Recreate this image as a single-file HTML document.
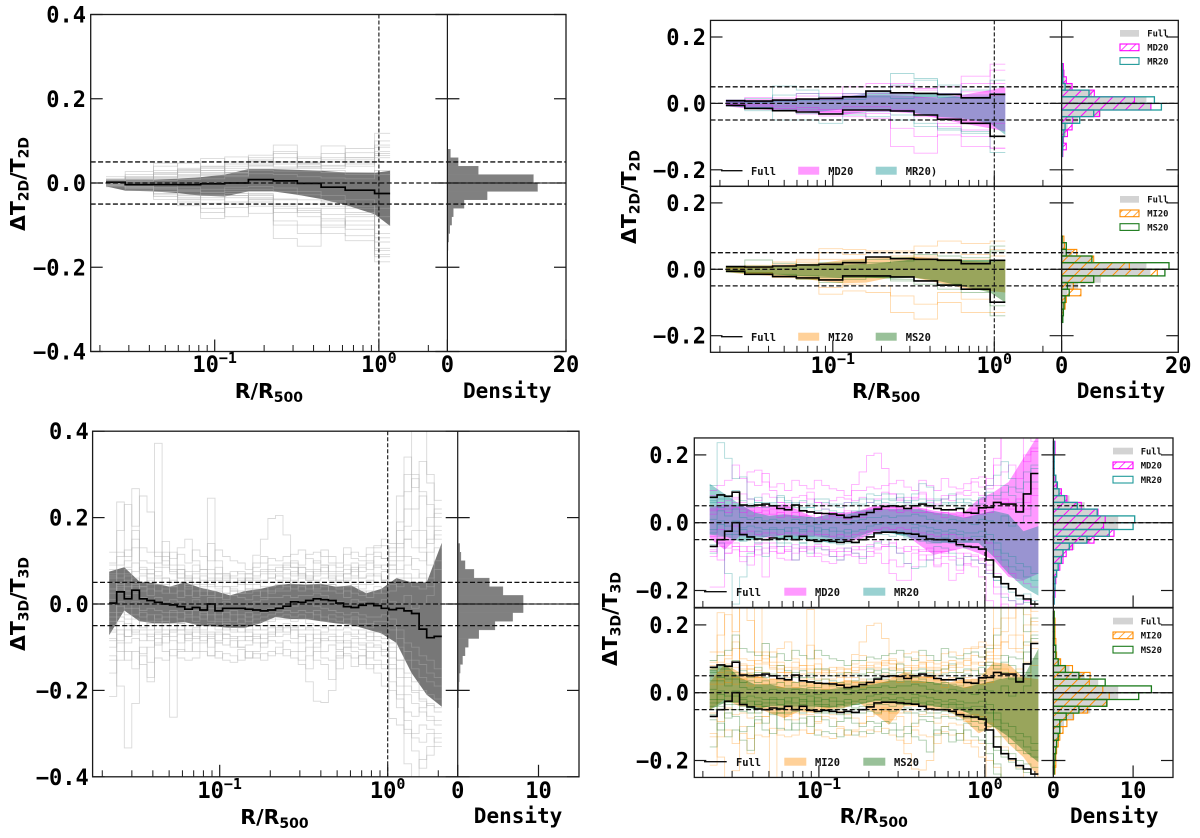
<!DOCTYPE html>
<html lang="en">
<head>
<meta charset="utf-8">
<title>Temperature deviation profiles</title>
<style>
html,body{margin:0;padding:0;background:#fff;width:1200px;height:838px;overflow:hidden}
svg{display:block;filter:blur(0.3px)}
.tick{font:bold 22px "DejaVu Sans Mono","Liberation Mono",monospace;fill:#000}
.dens{font:bold 21px "DejaVu Sans Mono","Liberation Mono",monospace;fill:#000}
.math{font:bold 20.5px "DejaVu Sans","Liberation Sans",sans-serif;fill:#000}
.legL{font:bold 10.4px "DejaVu Sans Mono","Liberation Mono",monospace;fill:#111}
.legR{font:bold 8.8px "DejaVu Sans Mono","Liberation Mono",monospace;fill:#111}
</style>
</head>
<body>
<svg id="chart" xmlns="http://www.w3.org/2000/svg" width="1200" height="838" viewBox="0 0 1200 838">
<defs>
<pattern id="hatch-md" patternUnits="userSpaceOnUse" width="9" height="9" patternTransform="rotate(45)"><line x1="0" y1="0" x2="0" y2="9" stroke="#ff00ff" stroke-width="2"/></pattern>
<pattern id="hatch-mi" patternUnits="userSpaceOnUse" width="9" height="9" patternTransform="rotate(45)"><line x1="0" y1="0" x2="0" y2="9" stroke="#ff8c00" stroke-width="2"/></pattern>
<pattern id="hatch-leg-md" patternUnits="userSpaceOnUse" width="6" height="6" patternTransform="rotate(45)"><line x1="0" y1="0" x2="0" y2="6" stroke="#ff00ff" stroke-width="1.5"/></pattern>
<pattern id="hatch-leg-mi" patternUnits="userSpaceOnUse" width="6" height="6" patternTransform="rotate(45)"><line x1="0" y1="0" x2="0" y2="6" stroke="#ff8c00" stroke-width="1.5"/></pattern>
</defs>
</svg>
<script>
/* ---------- shared axis data ---------- */
const yTicksWide = [0.4, 0.2, 0.0, -0.2, -0.4];
const yTicksNarrow = [0.2, 0.0, -0.2];
const refLines = [0.05, 0, -0.05];
const xMajorExp = [-1, 0];
const xMinorR = [0.02,0.03,0.04,0.05,0.06,0.07,0.08,0.09,0.2,0.3,0.4,0.5,0.6,0.7,0.8,0.9,2];

/* ---------- 2D profiles (log10 R bin edges; values in units of 0.001) ---------- */
const rEdges2D = [-1.662,-1.545,-1.373,-1.226,-1.086,-0.939,-0.795,-0.643,-0.497,-0.352,-0.205,-0.026,0.068];
const median2D = [2,-4,-4,-4,-2,0,8,5,-1,-10,-17,-25];
const upper2D = [8,7,10,13,15,20,37,32,30,27,17,27];
const lower2D = [-6,-15,-22,-26,-32,-20,-20,-23,-35,-48,-60,-99];
const bandUp2D = [8,8,8,10,14,20,33,33,31,29,25,24,29];
const bandLo2D = [-8,-18,-20,-24,-30,-32,-20,-20,-28,-38,-52,-74,-102];
const thin2D = [
 [10,20,40,47,30,40,66,90,40,30,25,118],
 [5,27,47,30,58,30,50,60,58,88,40,100],
 [15,10,20,35,40,62,40,50,45,60,82,90],
 [7,15,30,25,25,45,55,70,50,70,60,75],
 [3,12,15,18,30,25,45,45,38,50,50,60],
 [4,8,12,20,20,22,35,35,45,40,45,50],
 [-5,-10,-20,-40,-84,-50,-30,-132,-150,-60,-70,-187],
 [-9,-18,-39,-54,-60,-80,-40,-90,-100,-120,-137,-170],
 [-6,-12,-25,-30,-40,-35,-72,-60,-80,-100,-90,-160],
 [-4,-10,-20,-28,-35,-30,-45,-70,-60,-75,-110,-140],
 [-3,-8,-15,-20,-30,-25,-35,-50,-50,-55,-75,-120],
 [-2,-6,-12,-15,-22,-20,-28,-40,-40,-45,-60,-100],
 [2,4,6,8,10,15,22,20,15,12,10,20],
 [0,-3,-6,-10,-15,-10,-8,-12,-20,-30,-40,-60],
 [4,6,10,15,18,25,30,28,28,25,20,30],
 [-1,-8,-12,-18,-22,-15,-15,-20,-28,-42,-55,-80],
 [6,14,22,28,35,35,52,50,48,55,60,70],
 [-5,-14,-28,-34,-48,-45,-38,-55,-65,-85,-100,-130],
 [9,4,14,32,22,50,42,75,35,42,55,85],
 [-7,-4,-32,-45,-70,-30,-55,-100,-120,-90,-125,-175],
 [3,9,25,12,38,18,60,38,62,35,72,65],
 [1,-12,-10,-38,-28,-58,-25,-38,-70,-105,-80,-155]
];
const bandUpMD2D = [8,10,10,12,15,20,25,25,22,15,25,40,50];
const bandLoMD2D = [-8,-15,-20,-25,-30,-35,-25,-25,-30,-45,-60,-75,-85];
const bandUpMR2D = [8,6,8,10,15,18,30,32,30,28,20,22,25];
const bandLoMR2D = [-8,-12,-18,-22,-25,-18,-18,-22,-28,-40,-45,-60,-95];
const bandUpMI2D = [8,8,10,15,18,28,32,35,38,32,25,22,28];
const bandLoMI2D = [-8,-15,-20,-25,-35,-42,-40,-25,-25,-40,-55,-65,-70];
const bandUpMS2D = [8,6,8,8,10,12,15,22,30,30,28,28,28];
const bandLoMS2D = [-8,-12,-15,-20,-22,-25,-25,-28,-25,-35,-50,-70,-100];
const thinMD2D = [
 [10,18,16,30,30,50,60,52,40,30,82,118],
 [5,12,10,22,20,30,35,60,45,50,60,100],
 [-3,-8,-15,-20,-25,-30,-45,-130,-150,-60,-130,-135],
 [-6,-15,-22,-32,-38,-40,-30,-75,-100,-95,-100,-135],
 [-2,-4,-8,-12,-18,-10,-10,-20,-40,-70,-80,-60],
 [3,5,8,14,12,25,30,28,18,25,35,60]
];
const thinMR2D = [
 [10,15,52,40,20,30,35,90,75,55,25,50],
 [5,8,25,30,15,22,32,55,70,30,40,70],
 [-8,-22,-50,-50,-60,-35,-40,-50,-60,-80,-90,-148],
 [-5,-12,-22,-30,-30,-28,-25,-35,-70,-75,-85,-100],
 [2,2,6,8,10,12,20,15,22,18,15,30]
];
const thinMI2D = [
 [8,12,22,30,62,60,55,55,70,85,78,85],
 [5,6,15,25,50,45,50,50,40,50,45,60],
 [-6,-12,-25,-30,-75,-65,-70,-130,-150,-100,-130,-130],
 [-4,-10,-20,-28,-55,-45,-50,-80,-105,-70,-90,-100],
 [2,5,10,20,30,30,35,40,35,30,30,40]
];
const thinMS2D = [
 [8,28,18,15,20,25,30,35,45,40,35,70],
 [5,10,10,10,12,15,20,25,30,30,25,55],
 [-8,-15,-20,-30,-40,-30,-25,-35,-45,-60,-70,-140],
 [-4,-10,-15,-20,-25,-25,-22,-30,-35,-45,-60,-110]
];

/* ---------- 2D histograms: density per 0.02 bin, first bin upper edge given ---------- */
const histTopFull2D = 0.08;
const histFull2D = [0.5,1.8,5.2,14.5,15.2,6.7,2.8,1,0.7,0.4,0.2,0.1];
const histTopSub2D = 0.12;
const histFullSub2D = [0.05,0.1,0.5,1.8,5.2,14.5,15.2,6.7,2.8,1,0.7,0.4,0.2,0.1];
const histMD2D = [0.3,0.4,0.8,1.8,5.6,12.5,15.3,6.5,1.9,1.8,1,0.3,0.8,0.2];
const histMR2D = [0.1,0.2,0.2,0.6,4.7,15.9,17.1,5.5,3.1,0.6,0.4,0.2,0.2,0.1];
const histMI2D = [0,0.4,0.5,2.6,5.5,11.6,16.4,5.5,2,3.3,0.8,0.6,0.3,0.1];
const histMS2D = [0,0.1,0.8,0.8,5.2,18.4,17.7,5.5,1,1.3,0.6,0.4,0.3,0.2];

/* ---------- 3D profiles ---------- */
const rStart3D = -1.658;
const rStep3D = 0.045;
const median3D = [2,28,12,32,12,8,4,0,-2,-6,-12,-8,-14,0,-16,-10,-10,-10,-12,-14,-16,-14,-10,-5,5,4,8,12,10,8,2,-6,-8,-3,1,-4,-10,-13,-10,-16,-22,-58,-78,-80];
const median3DEnd = [-78,-75];
const upper3D = [75,82,78,90,52,50,52,55,50,42,38,52,35,32,28,27,26,22,15,18,24,30,40,48,50,48,42,50,55,50,42,38,38,42,30,28,44,45,60,55,55,32,85,145];
const lower3D = [-70,-50,-25,0,-35,-42,-48,-50,-45,-48,-40,-50,-40,-52,-55,-52,-55,-58,-55,-58,-50,-42,-30,-28,-28,-30,-32,-34,-40,-48,-50,-50,-55,-65,-70,-72,-78,-110,-160,-180,-195,-215,-225,-240];
const bandUp3D = [75,85,52,48,40,50,38,30,20,30,35,43,47,45,47,40,43,25,35,60,50,50,142];
const bandLo3D = [-72,-15,-40,-45,-45,-42,-50,-52,-55,-55,-45,-30,-35,-35,-40,-45,-48,-58,-68,-90,-160,-210,-238];
const bandUpMD3D = [45,55,50,45,50,55,35,15,25,30,35,50,50,45,45,35,30,30,70,90,120,190,260];
const bandLoMD3D = [-45,-80,-40,-40,-45,-35,-40,-40,-45,-55,-50,-30,-28,-30,-65,-95,-85,-75,-90,-110,-160,-170,-150];
const bandUpMR3D = [115,85,55,30,20,25,20,15,25,20,35,40,40,40,40,30,25,15,25,35,25,-25,-10];
const bandLoMR3D = [-35,-40,-55,-50,-40,-50,-50,-50,-60,-55,-40,-25,-30,-40,-50,-60,-60,-60,-60,-100,-150,-190,-215];
const bandUpMI3D = [30,85,60,55,40,40,30,30,25,35,35,35,40,60,50,50,30,40,40,90,85,45,40];
const bandLoMI3D = [-50,-20,-40,-40,-60,-75,-55,-60,-50,-45,-30,-60,-95,-40,-40,-50,-55,-80,-120,-100,-150,-190,-250];
const bandUpMS3D = [70,85,45,25,25,15,15,10,10,15,20,25,35,35,35,30,25,15,25,35,45,45,130];
const bandLoMS3D = [-50,-30,-30,-50,-40,-40,-40,-40,-45,-40,-35,-25,-25,-35,-35,-40,-45,-55,-75,-100,-130,-170,-205];
const thin3D = [
 [-214,236,110,267,70,60,372,90,120,80,60,50,40,245,70,40,30,25,60,113,150,198,205,160,85,70,60,75,90,60,50,70,80,90,95,130,135,110,190,300,420,420,300,240],
 [-120,-190,-333,-230,-100,-180,-90,-70,-262,-110,-70,-60,-65,-120,-90,-70,-75,-100,-125,-110,-90,-70,-50,-55,-80,-70,-180,-225,-228,-200,-120,-100,-90,-95,-140,-160,-190,-265,-280,-370,-420,-360,-330,-330],
 [120,170,230,180,250,213,120,100,90,130,150,100,80,140,100,70,60,50,70,85,110,75,85,95,100,90,115,120,110,95,85,115,120,110,130,135,150,140,250,340,270,330,280,200],
 [-160,-90,-130,-110,-140,-170,-70,-110,-120,-60,-80,-110,-90,-70,-125,-115,-120,-130,-110,-125,-115,-120,-100,-85,-90,-110,-100,-130,-140,-175,-110,-120,-145,-120,-110,-130,-140,-180,-240,-300,-300,-280,-290,-300],
 [90,120,85,150,100,95,85,120,80,60,75,90,70,60,55,65,50,45,55,75,80,90,90,80,70,85,80,100,90,75,70,60,95,75,100,85,90,120,140,180,220,250,230,150],
 [-100,-70,-90,-80,-85,-70,-95,-75,-85,-90,-70,-75,-85,-80,-90,-95,-85,-100,-95,-80,-70,-65,-75,-70,-60,-90,-70,-80,-110,-95,-105,-85,-100,-105,-125,-110,-120,-140,-190,-250,-260,-240,-230,-250],
 [60,70,70,95,50,55,60,45,55,50,40,60,45,55,35,40,35,30,25,35,55,60,65,60,55,60,65,55,60,65,50,55,60,45,55,50,75,90,80,110,80,60,120,160],
 [-65,-40,-50,-35,-55,-45,-60,-50,-45,-60,-50,-45,-60,-50,-60,-55,-60,-65,-60,-60,-50,-40,-35,-35,-40,-35,-45,-50,-55,-60,-60,-55,-60,-70,-75,-75,-80,-110,-170,-190,-205,-225,-235,-240],
 [35,50,40,60,30,35,30,35,25,30,20,30,20,30,15,25,20,15,10,20,30,40,45,40,35,40,35,45,40,30,25,30,25,20,30,25,35,45,40,60,40,35,60,100],
 [-40,-20,-25,-10,-30,-25,-35,-30,-30,-35,-30,-30,-35,-25,-35,-35,-40,-35,-40,-35,-30,-25,-20,-15,-20,-15,-20,-25,-30,-35,-40,-35,-35,-45,-45,-50,-50,-60,-100,-130,-150,-170,-180,-190],
 [10,35,20,40,15,10,15,5,10,5,0,10,-5,15,-5,5,0,0,-5,5,10,15,15,20,15,20,20,25,20,10,5,0,10,5,0,-5,10,5,0,20,-10,0,20,50],
 [-20,5,-10,5,-15,-10,-15,-20,-15,-20,-25,-15,-25,-10,-25,-20,-25,-25,-30,-25,-20,-10,-5,0,-5,0,0,-5,-10,-15,-20,-25,-20,-25,-30,-30,-25,-35,-60,-90,-100,-120,-130,-150],
 [70,90,100,130,80,70,95,110,70,90,60,70,55,40,85,60,75,70,45,60,70,80,75,85,95,70,55,80,75,90,75,90,75,60,65,110,105,90,130,220,290,170,140,180],
 [-80,-110,-60,-70,-115,-100,-80,-90,-60,-105,-110,-90,-75,-100,-70,-80,-100,-85,-75,-90,-100,-85,-90,-120,-110,-130,-120,-90,-80,-85,-125,-100,-110,-140,-90,-100,-110,-150,-210,-270,-340,-380,-350,-310],
 [50,25,55,25,40,80,45,60,40,70,35,50,30,80,40,25,40,60,35,45,40,25,30,30,75,50,45,35,45,45,35,40,45,35,45,70,55,70,100,150,130,120,90,130],
 [-50,-30,-75,-50,-40,-60,-50,-40,-65,-45,-60,-55,-50,-45,-40,-60,-50,-50,-75,-50,-60,-55,-60,-50,-55,-50,-60,-60,-70,-70,-75,-70,-75,-80,-65,-85,-90,-100,-130,-170,-180,-200,-210,-220],
 [40,60,50,70,60,150,155,120,95,60,50,40,60,90,60,40,30,25,60,113,150,198,205,160,85,70,60,75,90,60,50,70,80,90,95,130,135,110,190,300,420,420,300,240],
 [110,236,190,130,135,70,60,55,60,75,60,55,40,45,50,60,55,45,50,60,70,85,80,85,70,75,60,85,115,105,70,60,55,70,60,55,70,110,140,180,130,90,85,120],
 [-190,-190,-90,-70,-100,-125,-60,-160,-70,-90,-80,-110,-75,-70,-100,-115,-120,-110,-95,-100,-120,-100,-80,-70,-150,-170,-170,-130,-95,-110,-130,-120,-170,-150,-120,-130,-160,-230,-250,-240,-260,-240,-230,-260],
 [-90,-60,-150,-240,-160,-90,-70,-100,-50,-70,-60,-110,-60,-90,-75,-80,-100,-110,-75,-90,-105,-70,-60,-50,-70,-90,-120,-135,-130,-110,-70,-75,-90,-125,-100,-110,-120,-150,-170,-220,-230,-240,-210,-230],
 [80,60,65,75,85,70,65,85,75,60,55,75,80,70,60,55,65,75,70,65,75,60,70,90,85,65,75,70,85,70,55,80,65,85,80,90,80,100,110,150,170,130,200,210],
 [-85,-60,-75,-60,-70,-85,-65,-60,-75,-70,-85,-65,-70,-75,-65,-70,-80,-75,-85,-70,-80,-75,-55,-65,-50,-75,-85,-70,-85,-75,-85,-90,-80,-90,-100,-95,-105,-125,-150,-210,-230,-250,-270,-280],
 [65,45,80,50,65,45,75,60,50,80,65,45,65,45,70,70,50,55,60,55,50,70,55,70,65,85,55,65,70,55,65,70,85,60,70,65,55,80,70,90,105,100,150,170],
 [-60,-85,-45,-65,-60,-75,-40,-70,-60,-50,-65,-80,-50,-65,-85,-45,-65,-55,-65,-75,-90,-50,-65,-45,-60,-60,-55,-100,-65,-50,-90,-65,-70,-60,-85,-65,-70,-90,-130,-160,-200,-220,-260,-270],
 [25,40,30,45,40,20,45,25,40,15,45,15,35,20,30,10,30,25,35,30,15,30,35,55,45,30,50,30,30,45,40,15,40,30,15,40,25,30,60,70,60,70,40,80],
 [-30,-5,-35,-25,-20,-40,-25,-40,-20,-45,-15,-40,-20,-40,-15,-40,-15,-45,-20,-45,-40,-35,-30,-25,-30,-25,-35,-15,-40,-25,-30,-45,-30,-35,-55,-40,-40,-50,-80,-110,-130,-140,-160,-170],
 [95,110,125,170,130,120,110,145,105,115,95,125,110,100,125,110,100,95,80,95,95,105,100,110,115,125,105,95,125,110,95,130,105,100,115,120,105,130,170,260,300,260,180,220],
 [-130,-130,-110,-150,-120,-135,-125,-130,-105,-125,-130,-125,-110,-120,-110,-130,-135,-105,-125,-115,-130,-110,-115,-105,-125,-140,-150,-110,-125,-130,-150,-115,-125,-120,-150,-140,-150,-200,-220,-290,-310,-320,-300,-320]
];
const subsetFull3D = [0,1,2,3,4,5,6,7,8,9,10,11,12,13,14,15,20,21,22,23,24,25,26,27];
const subsetMD3D = [16,18,5,8,9,13,20,21,24,26];
const subsetMR3D = [17,19,6,7,10,11,22,25];
const subsetMI3D = [0,1,2,4,12,14,20,23,24,27];
const subsetMS3D = [3,6,7,8,9,10,11,13,15,22,25,26];

/* ---------- 3D histograms ---------- */
const histTop3D = 0.24;
const histFull3D = [0.05,0.05,0.05,0.05,0.05,0.25,0.4,0.9,2,3.9,5.6,8.1,8.1,6.8,4.6,2.6,1.3,0.9,0.6,0.3,0.2,0.15,0.1,0.1];
const histMD3D = [0.2,0.2,0.1,0.1,0.1,0.2,0.4,1,1.7,3.5,5.6,6.5,6.3,7.6,5.1,2.4,1.6,1.2,0.8,0.4,0.3,0.2,0.2,0.1];
const histMR3D = [0.1,0.1,0.1,0.1,0.1,0.3,0.5,0.7,1.4,3,5.5,10.2,10,7,4.2,2,1.2,1,0.6,0.4,0.2,0.2,0.1,0.1];
const histMI3D = [0.1,0.2,0.2,0.2,0.3,0.3,0.4,0.9,2.4,4.6,4.5,6.2,7,6.7,4.3,2.5,1.7,1.2,0.8,0.6,0.4,0.3,0.3,0.2];
const histMS3D = [0.1,0.1,0.1,0.1,0.1,0.3,0.3,0.6,1.5,3.2,6.5,12.3,10.7,6.7,3.2,1.6,0.8,0.8,0.6,0.4,0.3,0.2,0.1,0.1];

/* ---------- drawing helpers ---------- */
const svg = document.getElementById('chart');
const NS = 'http://www.w3.org/2000/svg';
function add(parent, tag, attrs, name) {
  const el = document.createElementNS(NS, tag);
  for (const k in attrs) el.setAttribute(k, attrs[k]);
  
  
  parent.appendChild(el);
  return el;
}
function group(parent, name, clip) {
  const a = clip ? {'clip-path':'url(#' + clip + ')'} : {};
  return add(parent, 'g', a, name);
}
function makeAxes(c) {
  const span = c.yMax;
  return {
    xR: lr => c.xM1 + (lr + 1) * (c.x0d - c.xM1),
    y: v => c.zero - v * c.perUnit,
    yM: m => c.zero - m / 1000 * c.perUnit,
    xD: d => c.xDiv + d * c.dScale,
    top: c.zero - span * c.perUnit,
    bot: c.zero + span * c.perUnit
  };
}
function stepPath(edges, vals, ax) {
  let d = '';
  vals.forEach((v, i) => {
    const y = ax.yM(v).toFixed(1);
    d += (i ? 'L' : 'M') + ax.xR(edges[i]).toFixed(1) + ' ' + y + 'L' + ax.xR(edges[i + 1]).toFixed(1) + ' ' + y;
  });
  return d;
}
function bandPath(knots, up, lo, ax) {
  let d = '';
  up.forEach((v, i) => { d += (i ? 'L' : 'M') + ax.xR(knots[i]).toFixed(1) + ' ' + ax.yM(v).toFixed(1); });
  for (let i = lo.length - 1; i >= 0; i--) d += 'L' + ax.xR(knots[i]).toFixed(1) + ' ' + ax.yM(lo[i]).toFixed(1);
  return d + 'Z';
}
function histBars(parent, vals, topV, binW, ax, style, name) {
  vals.forEach((d, i) => {
    if (d <= 0) return;
    const yT = ax.y(topV - i * binW), yB = ax.y(topV - (i + 1) * binW);
    const a = Object.assign({x: ax.xD(0).toFixed(1), y: yT.toFixed(1), width: (ax.xD(d) - ax.xD(0)).toFixed(1), height: (yB - yT).toFixed(1)}, style);
    add(parent, 'rect', a, name);
  });
}
let clipN = 0;
function makeClip(c, ax) {
  const id = 'clip' + (clipN++);
  const cp = add(svg.querySelector('defs'), 'clipPath', {id: id}, 'panel-clip');
  add(cp, 'rect', {x: c.x0, y: ax.top, width: c.x1 - c.x0, height: ax.bot - ax.top}, 'panel-clip-rect');
  return id;
}
function drawAxes(root, c, ax, yTicks, xLabels) {
  const g = group(root, 'axes');
  const ink = '#1a1a1a';
  refLines.forEach(v => {
    add(g, 'line', {x1: c.x0, x2: c.x1, y1: ax.y(v), y2: ax.y(v), stroke: '#111', 'stroke-width': 1.3, 'stroke-dasharray': '5 2.4'}, 'reference-line');
  });
  add(g, 'line', {x1: c.xDiv, x2: c.x1, y1: ax.y(0), y2: ax.y(0), stroke: '#111', 'stroke-width': 1}, 'density-zero-line');
  add(g, 'line', {x1: c.x0d, x2: c.x0d, y1: ax.top, y2: ax.bot, stroke: '#111', 'stroke-width': 1.1, 'stroke-dasharray': '4 2'}, 'r500-line');
  add(g, 'rect', {x: c.x0, y: ax.top, width: c.x1 - c.x0, height: ax.bot - ax.top, fill: 'none', stroke: ink, 'stroke-width': 1.3}, 'panel-frame');
  add(g, 'line', {x1: c.xDiv, x2: c.xDiv, y1: ax.top, y2: ax.bot, stroke: ink, 'stroke-width': 1.2}, 'panel-divider');
  yTicks.forEach(v => {
    const y = ax.y(v);
    add(g, 'line', {x1: c.x0, x2: c.x0 + 12, y1: y, y2: y, stroke: ink, 'stroke-width': 1.2}, 'y-tick');
    add(g, 'line', {x1: c.xDiv - 12, x2: c.xDiv + 12, y1: y, y2: y, stroke: ink, 'stroke-width': 1.2}, 'y-tick-divider');
    add(g, 'line', {x1: c.x1 - 12, x2: c.x1, y1: y, y2: y, stroke: ink, 'stroke-width': 1.2}, 'y-tick-right');
    const t = add(g, 'text', {x: c.labelRight, y: y + 8, 'text-anchor': 'end', class: 'tick'}, 'y-tick-label');
    t.textContent = (v < 0 ? '\u2212' : '') + Math.abs(v).toFixed(1);
  });
  xMinorR.forEach(r => {
    const x = ax.xR(Math.log10(r));
    add(g, 'line', {x1: x, x2: x, y1: ax.bot - 6.5, y2: ax.bot, stroke: ink, 'stroke-width': 1}, 'x-minor-tick');
  });
  xMajorExp.forEach(e => {
    const x = ax.xR(e);
    add(g, 'line', {x1: x, x2: x, y1: ax.bot - 12, y2: ax.bot, stroke: ink, 'stroke-width': 1.2}, 'x-major-tick');
    if (xLabels) {
      const t = add(g, 'text', {x: x, y: xLabels.base, 'text-anchor': 'middle', class: 'tick'}, 'x-tick-label');
      t.textContent = '10';
      const s = add(t, 'tspan', {dy: -9, 'font-size': 15}, 'x-tick-exponent');
      s.textContent = e < 0 ? '\u2212' + Math.abs(e) : String(e);
    }
  });
  c.dTicks.forEach(d => {
    const x = ax.xD(d);
    add(g, 'line', {x1: x, x2: x, y1: ax.bot - 12, y2: ax.bot, stroke: ink, 'stroke-width': 1.2}, 'density-tick');
    if (xLabels) {
      const t = add(g, 'text', {x: x, y: xLabels.base, 'text-anchor': 'middle', class: 'tick'}, 'density-tick-label');
      t.textContent = String(d);
    }
  });
}
function thinLines(parent, edges, list, colour, op, ax, name) {
  list.forEach(p => {
    add(parent, 'path', {d: stepPath(edges, p, ax), fill: 'none', stroke: colour, 'stroke-width': 0.9, 'stroke-opacity': op}, name);
  });
}
function xyLabels(root, yl, xl, dl, sub) {
  const yt = add(root, 'text', {transform: 'translate(' + yl.x + ' ' + yl.y + ') rotate(-90)', 'text-anchor': 'middle', class: 'math'}, 'y-axis-title');
  yt.appendChild(document.createTextNode('\u0394T'));
  const s1 = add(yt, 'tspan', {dy: 3.5, 'font-size': 14}, 'y-title-subscript');
  s1.textContent = sub;
  const mid = add(yt, 'tspan', {dy: -3.5}, 'y-title-slash');
  mid.textContent = '/T';
  const s2 = add(yt, 'tspan', {dy: 3.5, 'font-size': 14}, 'y-title-subscript');
  s2.textContent = sub;
  const xt = add(root, 'text', {x: xl.x, y: xl.y, class: 'math'}, 'x-axis-title');
  xt.appendChild(document.createTextNode('R/R'));
  const s3 = add(xt, 'tspan', {dy: 4, 'font-size': 14}, 'x-title-subscript');
  s3.textContent = '500';
  const dt = add(root, 'text', {x: dl.x, y: dl.y, class: 'dens'}, 'density-axis-title');
  dt.textContent = 'Density';
}
function legendLeft(root, L, names) {
  const g = group(root, 'profile-legend');
  add(g, 'line', {x1: L.lx0, x2: L.lx1, y1: L.y, y2: L.y, stroke: '#111', 'stroke-width': 1.3}, 'legend-line-full');
  const t0 = add(g, 'text', {x: L.tx0, y: L.y + 4.4, class: 'legL'}, 'legend-label-full');
  t0.textContent = 'Full';
  names.forEach((n, i) => {
    add(g, 'rect', {x: L.px[i], y: L.y - 4, width: L.pw, height: 8, fill: n.fill, 'fill-opacity': 0.4}, 'legend-swatch');
    const t = add(g, 'text', {x: L.tx[i], y: L.y + 4.4, class: 'legL'}, 'legend-label');
    t.textContent = n.label;
  });
}
function legendRight(root, L, names) {
  const g = group(root, 'histogram-legend');
  add(g, 'rect', {x: L.x, y: L.y[0], width: L.w, height: 6.7, fill: '#d3d3d3'}, 'legend-swatch-full');
  const t0 = add(g, 'text', {x: L.tx, y: L.y[0] + 6.6, class: 'legR'}, 'legend-label-full');
  t0.textContent = 'Full';
  names.forEach((n, i) => {
    add(g, 'rect', {x: L.x, y: L.y[i + 1], width: L.w, height: 6.7, fill: n.hatch || 'none', stroke: n.stroke, 'stroke-width': 1.1}, 'legend-swatch');
    const t = add(g, 'text', {x: L.tx, y: L.y[i + 1] + 6.6, class: 'legR'}, 'legend-label');
    t.textContent = n.label;
  });
}
function singlePanel(c, edges, knots, upBand, loBand, med, thin, hist, histTop, name) {
  const root = group(svg, name);
  const ax = makeAxes(c);
  const clip = makeClip(c, ax);
  const g = group(root, 'profiles', clip);
  add(g, 'path', {d: bandPath(knots, upBand, loBand, ax), fill: '#6b6b6b', 'fill-opacity': 0.92}, 'percentile-band');
  thinLines(g, edges, thin, '#aaaaaa', 0.45, ax, 'cluster-profile');
  const h = group(root, 'density-histogram', clip);
  histBars(h, hist, histTop, 0.02, ax, {fill: '#808080', stroke: '#808080', 'stroke-width': 0.4}, 'density-bar');
  drawAxes(root, c, ax, c.yTicks, c.xLabels);
  add(g, 'path', {d: stepPath(edges, med, ax), fill: 'none', stroke: '#000', 'stroke-width': 1.7}, 'median-profile');
}
function subPanel(c, edges, knots, s, name) {
  const root = group(svg, name);
  const ax = makeAxes(c);
  const clip = makeClip(c, ax);
  const g = group(root, 'profiles', clip);
  add(g, 'path', {d: bandPath(knots, s.upA, s.loA, ax), fill: s.colA, 'fill-opacity': 0.4}, 'band-' + s.nameA);
  add(g, 'path', {d: bandPath(knots, s.upB, s.loB, ax), fill: s.colB, 'fill-opacity': 0.4}, 'band-' + s.nameB);
  thinLines(g, edges, s.thinA, s.colA, 0.32, ax, 'profile-' + s.nameA);
  thinLines(g, edges, s.thinB, s.colB, 0.32, ax, 'profile-' + s.nameB);
  const h = group(root, 'density-histogram', clip);
  histBars(h, s.histFull, s.histTopFull, 0.02, ax, {fill: '#d3d3d3', stroke: '#d3d3d3', 'stroke-width': 0.4}, 'density-bar-full');
  histBars(h, s.histA, s.histTop, 0.02, ax, {fill: s.hatch, stroke: s.colA, 'stroke-width': 1.1}, 'density-bar-' + s.nameA);
  histBars(h, s.histB, s.histTop, 0.02, ax, {fill: 'none', stroke: s.colBLine, 'stroke-width': 1.3}, 'density-bar-' + s.nameB);
  drawAxes(root, c, ax, c.yTicks, c.xLabels);
  add(g, 'path', {d: stepPath(edges, s.black[0], ax), fill: 'none', stroke: '#000', 'stroke-width': 1.6}, 'full-upper-profile');
  add(g, 'path', {d: stepPath(edges, s.black[1], ax), fill: 'none', stroke: '#000', 'stroke-width': 1.6}, 'full-lower-profile');
  legendLeft(root, c.legL, [{fill: s.colA, label: s.labA}, {fill: s.colB, label: s.labB}]);
  legendRight(root, c.legR, [{hatch: s.legHatch, stroke: s.colA, label: s.legA}, {stroke: s.colBLine, label: s.legB}]);
}

/* ---------- derived bin grids ---------- */
const edges3D = [];
for (let i = 0; i <= 44; i++) edges3D.push(rStart3D + i * rStep3D);
const knots3D = [];
for (let i = 0; i <= 22; i++) knots3D.push(rStart3D + i * 2 * rStep3D);
const medianFull3D = median3D.slice(0, 42).concat(median3DEnd);
const pick = idx => idx.map(i => thin3D[i]);

/* ---------- panels ---------- */
const cA = {x0: 90.7, xDiv: 447.4, x1: 566, xM1: 214.7, x0d: 378.9, zero: 183, perUnit: 421.25, yMax: 0.4, dScale: 5.93, dTicks: [0, 20], yTicks: yTicksWide, labelRight: 86, xLabels: {base: 372}};
singlePanel(cA, rEdges2D, rEdges2D, bandUp2D, bandLo2D, median2D, thin2D, histFull2D, histTopFull2D, 'panel-2d-full');
xyLabels(svg, {x: 25, y: 184}, {x: 234.7, y: 398}, {x: 463, y: 398}, '2D');

const cC = {x0: 92.6, xDiv: 457.7, x1: 579, xM1: 219.7, x0d: 387.7, zero: 604, perUnit: 432, yMax: 0.4, dScale: 8.08, dTicks: [0, 10], yTicks: yTicksWide, labelRight: 88.8, xLabels: {base: 798}};
singlePanel(cC, edges3D, knots3D, bandUp3D, bandLo3D, medianFull3D, pick(subsetFull3D), histFull3D, histTop3D, 'panel-3d-full');
xyLabels(svg, {x: 25, y: 604}, {x: 240.3, y: 824}, {x: 473.8, y: 823}, '3D');

function legB(dy) {
  return {
    legL: {lx0: 721, lx1: 742.5, y: 170.7 + dy, tx0: 751, px: [798.2, 875.7], tx: [828.3, 905.8], pw: 21},
    legR: {x: 1120, w: 19, y: [30 + dy, 44 + dy, 57.7 + dy], tx: 1147.3}
  };
}
const baseB = {x0: 710.5, xDiv: 1061.6, x1: 1178.3, xM1: 832.8, x0d: 994.3, perUnit: 332, yMax: 0.25, dScale: 5.835, dTicks: [0, 20], yTicks: yTicksNarrow, labelRight: 706};
subPanel(Object.assign({}, baseB, legB(0), {zero: 103.4}), rEdges2D, rEdges2D, {
  upA: bandUpMD2D, loA: bandLoMD2D, upB: bandUpMR2D, loB: bandLoMR2D,
  colA: '#ff00ff', colB: '#008b8b', colBLine: '#209a9a', nameA: 'md20', nameB: 'mr20',
  thinA: thinMD2D, thinB: thinMR2D, black: [upper2D, lower2D],
  histFull: histFullSub2D, histTopFull: histTopSub2D, histA: histMD2D, histB: histMR2D, histTop: histTopSub2D,
  hatch: 'url(#hatch-md)', legHatch: 'url(#hatch-leg-md)', labA: 'MD20', labB: 'MR20)', legA: 'MD20', legB: 'MR20'
}, 'panel-2d-morphology-a');
subPanel(Object.assign({}, baseB, legB(166), {zero: 269.3, xLabels: {base: 373}}), rEdges2D, rEdges2D, {
  upA: bandUpMI2D, loA: bandLoMI2D, upB: bandUpMS2D, loB: bandLoMS2D,
  colA: '#ff8c00', colB: '#006400', colBLine: '#1a7a1a', nameA: 'mi20', nameB: 'ms20',
  thinA: thinMI2D, thinB: thinMS2D, black: [upper2D, lower2D],
  histFull: histFullSub2D, histTopFull: histTopSub2D, histA: histMI2D, histB: histMS2D, histTop: histTopSub2D,
  hatch: 'url(#hatch-mi)', legHatch: 'url(#hatch-leg-mi)', labA: 'MI20', labB: 'MS20', legA: 'MI20', legB: 'MS20'
}, 'panel-2d-morphology-b');
xyLabels(svg, {x: 636, y: 197}, {x: 852, y: 398}, {x: 1076.7, y: 398}, '2D');

function legD(dy) {
  return {
    legL: {lx0: 704, lx1: 726.7, y: 591.7 + dy, tx0: 736, px: [784.3, 863.3], tx: [815, 894], pw: 22},
    legR: {x: 1113, w: 20, y: [447.7 + dy, 462 + dy, 476.3 + dy], tx: 1140.7}
  };
}
const baseD = {x0: 694.3, xDiv: 1053.4, x1: 1173, xM1: 818.9, x0d: 984.9, perUnit: 339, yMax: 0.25, dScale: 7.97, dTicks: [0, 10], yTicks: yTicksNarrow, labelRight: 689};
subPanel(Object.assign({}, baseD, legD(0), {zero: 522.7}), edges3D, knots3D, {
  upA: bandUpMD3D, loA: bandLoMD3D, upB: bandUpMR3D, loB: bandLoMR3D,
  colA: '#ff00ff', colB: '#008b8b', colBLine: '#209a9a', nameA: 'md20', nameB: 'mr20',
  thinA: pick(subsetMD3D), thinB: pick(subsetMR3D), black: [upper3D, lower3D],
  histFull: histFull3D, histTopFull: histTop3D, histA: histMD3D, histB: histMR3D, histTop: histTop3D,
  hatch: 'url(#hatch-md)', legHatch: 'url(#hatch-leg-md)', labA: 'MD20', labB: 'MR20', legA: 'MD20', legB: 'MR20'
}, 'panel-3d-morphology-a');
subPanel(Object.assign({}, baseD, legD(170), {zero: 692.7, xLabels: {base: 798}}), edges3D, knots3D, {
  upA: bandUpMI3D, loA: bandLoMI3D, upB: bandUpMS3D, loB: bandLoMS3D,
  colA: '#ff8c00', colB: '#006400', colBLine: '#1a7a1a', nameA: 'mi20', nameB: 'ms20',
  thinA: pick(subsetMI3D), thinB: pick(subsetMS3D), black: [upper3D, lower3D],
  histFull: histFull3D, histTopFull: histTop3D, histA: histMI3D, histB: histMS3D, histTop: histTop3D,
  hatch: 'url(#hatch-mi)', legHatch: 'url(#hatch-leg-mi)', labA: 'MI20', labB: 'MS20', legA: 'MI20', legB: 'MS20'
}, 'panel-3d-morphology-b');
xyLabels(svg, {x: 617, y: 619}, {x: 839.6, y: 823}, {x: 1070, y: 823}, '3D');
</script>
</body>
</html>
